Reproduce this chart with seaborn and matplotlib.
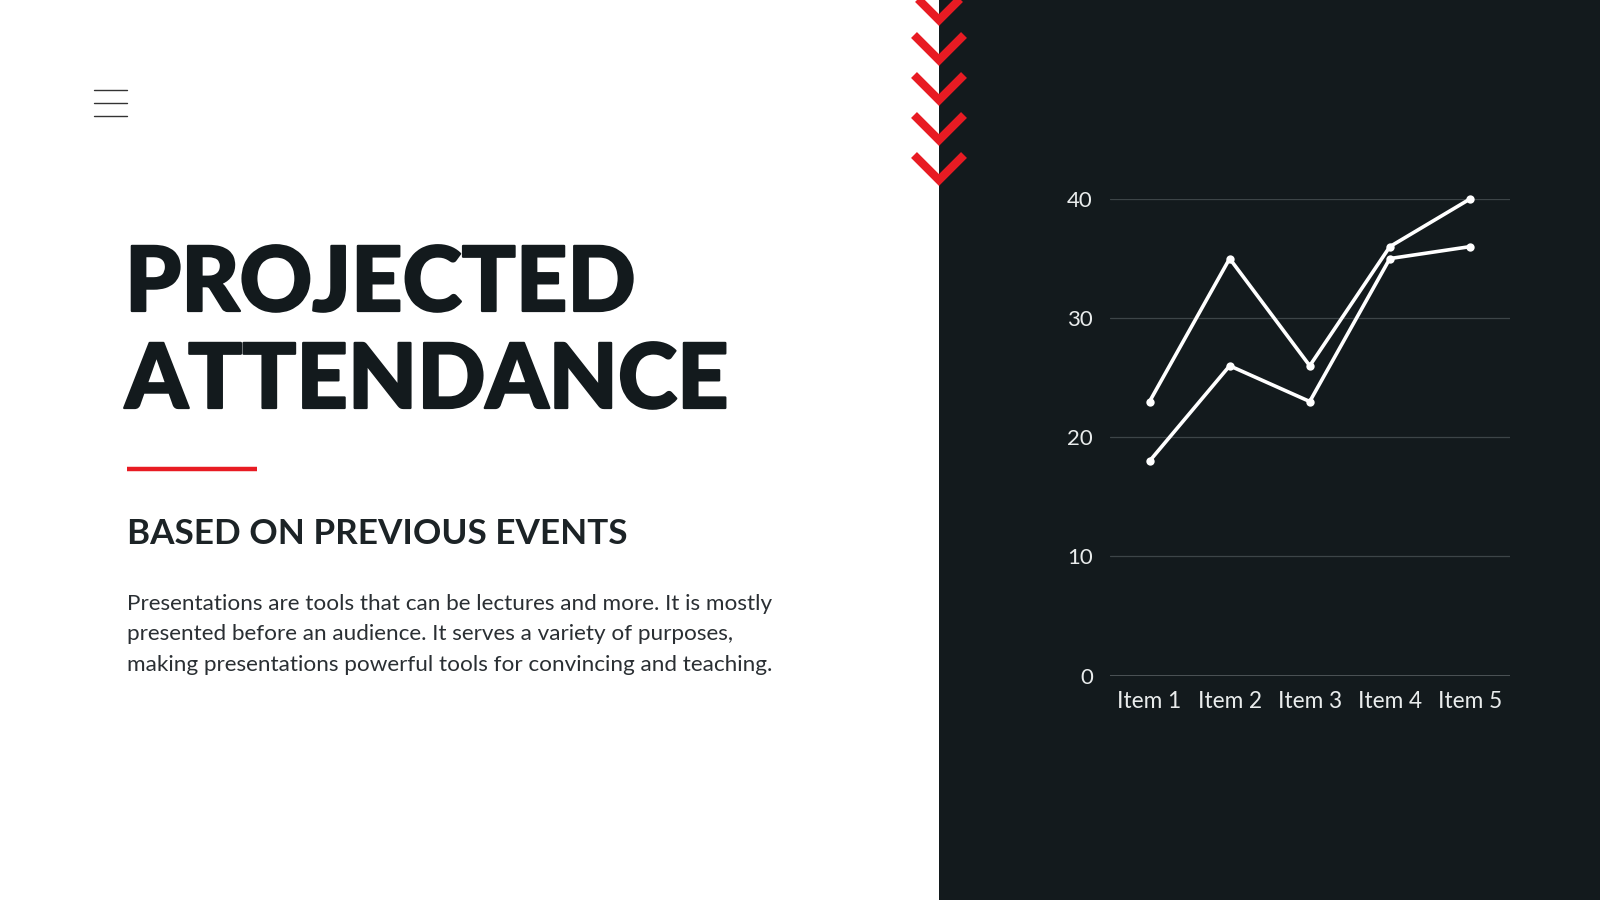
import matplotlib
matplotlib.use("Agg")
import matplotlib.pyplot as plt
from matplotlib.lines import Line2D
from matplotlib.patches import Rectangle
import matplotlib.patheffects as pe
import seaborn as sns
import pandas as pd

# ---- data ----
categories = ["Item 1", "Item 2", "Item 3", "Item 4", "Item 5"]
series_a = [23, 35, 26, 36, 40]
series_b = [18, 26, 23, 35, 36]
y_ticks = [0, 10, 20, 30, 40]

title_lines = ["PROJECTED", "ATTENDANCE"]
subtitle = "BASED ON PREVIOUS EVENTS"
paragraph = [
    "Presentations are tools that can be lectures and more. It is mostly",
    "presented before an audience. It serves a variety of purposes,",
    "making presentations powerful tools for convincing and teaching.",
]

DARK = "#131a1d"
RED = "#e81b23"
W, H = 1600, 900

sns.set_theme(style="white")
plt.rcParams["font.family"] = ["Lato", "DejaVu Sans"]

fig = plt.figure(figsize=(16, 9), dpi=100)
fig.patch.set_facecolor("white")

def fx(x):
    return x / W

def fy(y):
    return 1 - y / H

# dark panel
fig.add_artist(Rectangle((fx(939), 0), 1 - fx(939), 1, transform=fig.transFigure,
                         facecolor=DARK, edgecolor="none", zorder=0))

# chevrons
for k in range(5):
    ty = 20 + 40 * k
    fig.add_artist(Line2D([fx(914), fx(939), fx(964)], [fy(ty - 25), fy(ty), fy(ty - 25)],
                          transform=fig.transFigure, color=RED, lw=6,
                          solid_joinstyle="miter", solid_capstyle="butt", zorder=3))

# hamburger menu
for yy in [90, 103, 116]:
    fig.add_artist(Line2D([fx(94), fx(127)], [fy(yy), fy(yy)], transform=fig.transFigure,
                          color="#333333", lw=1.0))

# title
heavy = [pe.withStroke(linewidth=1.6, foreground=DARK)]
fig.text(fx(125), fy(311), title_lines[0], fontsize=64.6, fontweight="black",
         color=DARK, va="baseline", ha="left", path_effects=heavy)
fig.text(fx(125), fy(408), title_lines[1], fontsize=64.6, fontweight="black",
         color=DARK, va="baseline", ha="left", path_effects=heavy)

# red rule
fig.add_artist(Line2D([fx(127.5), fx(257)], [fy(469.5), fy(469.5)], transform=fig.transFigure,
                      color=RED, lw=3.2, solid_capstyle="butt"))

# subtitle
fig.text(fx(127), fy(544), subtitle, fontsize=25.3, fontweight="bold",
         color="#1c2326", va="baseline", ha="left")

# paragraph
for i, line in enumerate(paragraph):
    fig.text(fx(127.5), fy(610 + 30.5 * i), line, fontsize=16.2,
             color="#2a2f33", va="baseline", ha="left")

# chart
ax = fig.add_axes([fx(1109.5), fy(675.5), fx(1510) - fx(1109.5), (675.5 - 199) / H])
ax.set_facecolor("none")

df = pd.DataFrame({
    "item": categories * 2,
    "value": series_a + series_b,
    "series": ["A"] * len(categories) + ["B"] * len(categories),
})
sns.lineplot(data=df, x="item", y="value", hue="series", palette=["white", "white"],
             marker="o", markersize=6, markeredgewidth=0, linewidth=2.6,
             legend=False, ax=ax, sort=False, zorder=3, clip_on=False)

ax.set_xlim(-0.5, len(categories) - 0.5)
ax.set_ylim(0, 40)
ax.set_yticks(y_ticks)
ax.set_xlabel("")
ax.set_ylabel("")
for s in ax.spines.values():
    s.set_visible(False)
ax.grid(False)
for t in y_ticks:
    ax.axhline(t, color="#5b6366" if t == 0 else "#3d4548", lw=1.1 if t == 0 else 0.9, zorder=1)
ax.tick_params(axis="y", length=0, pad=12, labelsize=16, labelcolor="#e9ecec")
ax.tick_params(axis="x", length=0, pad=11, labelsize=16.3, labelcolor="#e9ecec")

fig.savefig("out.png", dpi=100, facecolor="white")
